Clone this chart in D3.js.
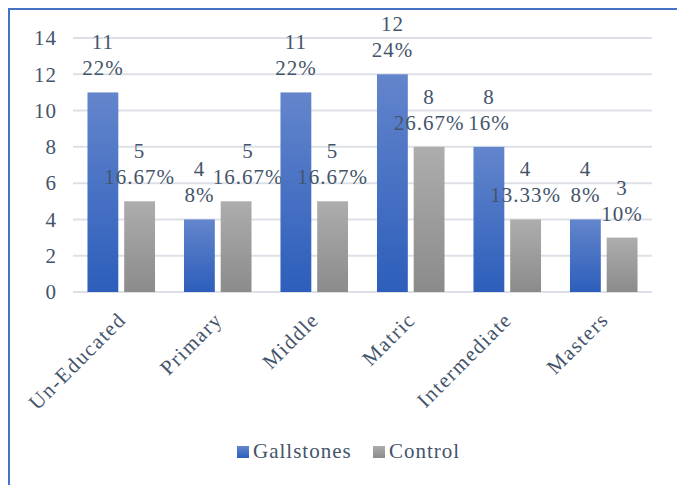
<!DOCTYPE html>
<html lang="en">
<head>
    <meta charset="UTF-8">
    <title>Education</title>
    <style>
        body { margin: 0; background: #fff; }
        svg text { font-family: "Liberation Serif", serif; fill: #44546A; }
    </style>
</head>
<body>
    <div id="chart"></div>
    <script src="https://d3js.org/d3.v7.min.js"></script>
    <script>
        const categories = ['Un-Educated', 'Primary', 'Middle', 'Matric', 'Intermediate', 'Masters']
        const seriesNames = ['Gallstones', 'Control']
        const gallstones = [11, 4, 11, 12, 8, 4]
        const control = [5, 5, 5, 8, 4, 3]
        const gallstonesPct = ['22%', '8%', '22%', '24%', '16%', '8%']
        const controlPct = ['16.67%', '16.67%', '16.67%', '26.67%', '13.33%', '10%']
        const yTicks = [0, 2, 4, 6, 8, 10, 12, 14]

        const width = 677
        const height = 485
        const fontSize = 21

        const svg = d3.select('#chart')
            .append('svg')
            .attr('width', width)
            .attr('height', height)

        // gradients for the bars
        const defs = svg.append('defs')
        const grads = [['g-blue', '#6385CC', '#2D5EBB'], ['g-gray', '#ADADAD', '#8B8B8B']]
        grads.forEach(g => {
            const lg = defs.append('linearGradient')
                .attr('id', g[0])
                .attr('x1', 0).attr('y1', 0).attr('x2', 0).attr('y2', 1)
            lg.append('stop').attr('offset', '0%').attr('stop-color', g[1])
            lg.append('stop').attr('offset', '100%').attr('stop-color', g[2])
        })
        const fills = ['url(#g-blue)', 'url(#g-gray)']

        // frame lines on left and top
        svg.append('path')
            .attr('d', `M9,${height} L9,9 L${width},9`)
            .attr('fill', 'none')
            .attr('stroke', '#4472C4')
            .attr('stroke-width', 2)

        const y = d3.scaleLinear().domain([0, 14]).range([292, 38])
        const x0 = d3.scaleBand()
            .domain(categories)
            .range([73, 652])
            .paddingInner(0.3)
            .paddingOuter(0.15)
        const x1 = d3.scaleBand()
            .domain(seriesNames)
            .range([0, x0.bandwidth()])
            .paddingInner(0.16)

        // grid
        const grid = svg.append('g')
        yTicks.forEach(t => {
            grid.append('line')
                .attr('x1', 73).attr('x2', 652)
                .attr('y1', y(t)).attr('y2', y(t))
                .attr('stroke', '#DDE1E7')
                .attr('stroke-width', 2)
            grid.append('text')
                .attr('x', 57)
                .attr('y', y(t))
                .attr('dy', '0.35em')
                .attr('text-anchor', 'end')
                .style('font-size', fontSize + 'px')
                .style('letter-spacing', '1px')
                .text(t)
        })

        const data = categories.map((c, i) => ({
            cat: c,
            vals: [
                { s: seriesNames[0], v: gallstones[i], p: gallstonesPct[i], k: 0 },
                { s: seriesNames[1], v: control[i], p: controlPct[i], k: 1 }
            ]
        }))

        const groups = svg.append('g')
            .selectAll('g')
            .data(data)
            .enter()
            .append('g')
            .attr('transform', d => `translate(${x0(d.cat)},0)`)

        groups.selectAll('rect')
            .data(d => d.vals)
            .enter()
            .append('rect')
            .attr('x', d => x1(d.s))
            .attr('y', d => y(d.v))
            .attr('width', x1.bandwidth())
            .attr('height', d => y(0) - y(d.v))
            .attr('fill', d => fills[d.k])

        // value + percent labels; nudge the one that would collide with its neighbour
        function labelX(d, cat) {
            let cx = x1(d.s) + x1.bandwidth() / 2
            if (cat === 'Primary' && d.k === 1) cx += 12
            return cx
        }
        const labels = groups.selectAll('g.lbl')
            .data(d => d.vals.map(v => Object.assign({ cat: d.cat }, v)))
            .enter()
            .append('g')
            .attr('class', 'lbl')
        labels.append('text')
            .attr('x', d => labelX(d, d.cat))
            .attr('y', d => y(d.v) - 43)
            .attr('text-anchor', 'middle')
            .style('font-size', fontSize + 'px')
            .style('letter-spacing', '1px')
            .text(d => d.v)
        labels.append('text')
            .attr('x', d => labelX(d, d.cat))
            .attr('y', d => y(d.v) - 17)
            .attr('text-anchor', 'middle')
            .style('font-size', fontSize + 'px')
            .style('letter-spacing', '1px')
            .text(d => d.p)

        // category labels
        svg.append('g')
            .selectAll('text')
            .data(categories)
            .enter()
            .append('text')
            .attr('text-anchor', 'end')
            .attr('transform', d => `translate(${x0(d) + x0.bandwidth() / 2 + 6},${321}) rotate(-45)`)
            .style('font-size', fontSize + 'px')
            .style('letter-spacing', '1.5px')
            .text(d => d)

        // legend
        const legend = svg.append('g')
        const legendX = [237, 373]
        seriesNames.forEach((s, i) => {
            legend.append('rect')
                .attr('x', legendX[i])
                .attr('y', 446)
                .attr('width', 12)
                .attr('height', 12)
                .attr('fill', fills[i])
            legend.append('text')
                .attr('x', legendX[i] + 16)
                .attr('y', 458)
                .style('font-size', fontSize + 'px')
                .style('letter-spacing', '1px')
                .text(s)
        })
    </script>
</body>
</html>
